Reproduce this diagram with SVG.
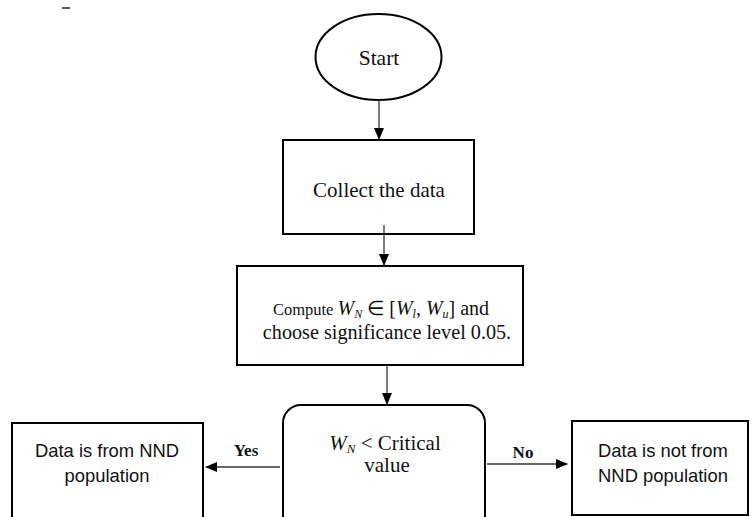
<svg xmlns="http://www.w3.org/2000/svg" width="753" height="517" viewBox="0 0 753 517">
<style>
.shape{fill:#fff;stroke:#000;stroke-width:2}
.serif{font-family:"Liberation Serif","Times New Roman",serif;fill:#111}
.sans{font-family:"Liberation Sans",Arial,sans-serif;fill:#111;font-size:18.4px}
.conn{stroke:#333;stroke-width:1.3;fill:none}
.it{font-style:italic}
.lbl{font-size:17px;font-weight:bold}
</style>
<defs>
<marker id="ah" markerWidth="12" markerHeight="10" refX="11" refY="5" orient="auto" markerUnits="userSpaceOnUse">
<path d="M0,0 L12,5 L0,10 Z" fill="#000"/>
</marker>
</defs>
<line x1="62" y1="8" x2="70" y2="8" stroke="#222" stroke-width="1.5"/>
<g id="start">
<ellipse cx="378.5" cy="57" rx="63" ry="43" class="shape" stroke-width="2.5"/>
<text x="379" y="65" class="serif" font-size="21.5" text-anchor="middle">Start</text>
</g>
<g id="collect">
<rect x="283" y="140" width="191" height="94" class="shape"/>
<text x="379" y="197" class="serif" font-size="21" text-anchor="middle">Collect the data</text>
</g>
<g id="compute">
<rect x="237" y="266" width="286" height="99" class="shape" stroke-width="2.5"/>
<text x="381" y="315" class="serif" font-size="20" text-anchor="middle"><tspan font-size="16.5">Compute </tspan><tspan class="it">W</tspan><tspan class="it" font-size="12" dy="3">N</tspan><tspan dy="-3"> ∈ [</tspan><tspan class="it">W</tspan><tspan class="it" font-size="12" dy="3">l</tspan><tspan dy="-3">, </tspan><tspan class="it">W</tspan><tspan class="it" font-size="12" dy="3">u</tspan><tspan dy="-3">] and</tspan></text>
<text x="387" y="339" class="serif" font-size="20.2" text-anchor="middle">choose significance level 0.05.</text>
</g>
<g id="decision">
<rect x="283" y="405" width="202" height="130" rx="18" ry="18" class="shape"/>
<text x="385" y="450" class="serif" font-size="21" text-anchor="middle"><tspan class="it">W</tspan><tspan class="it" font-size="13" dy="3">N</tspan><tspan dy="-3"> &lt; Critical</tspan></text>
<text x="387" y="472" class="serif" font-size="21" text-anchor="middle">value</text>
</g>
<g id="yes-box">
<rect x="12" y="423" width="191" height="100" class="shape"/>
<text x="107" y="457" class="sans" text-anchor="middle">Data is from NND</text>
<text x="107" y="482" class="sans" text-anchor="middle">population</text>
</g>
<g id="no-box">
<rect x="572" y="421" width="176" height="94" class="shape"/>
<text x="663" y="457" class="sans" text-anchor="middle">Data is not from</text>
<text x="663" y="482" class="sans" text-anchor="middle">NND population</text>
</g>
<g id="connectors">
<line x1="379" y1="100" x2="379" y2="139" class="conn" marker-end="url(#ah)"/>
<line x1="384" y1="225" x2="384" y2="265" class="conn" marker-end="url(#ah)"/>
<line x1="387" y1="366" x2="387" y2="404" class="conn" marker-end="url(#ah)"/>
<line x1="280" y1="467" x2="206" y2="467" class="conn" marker-end="url(#ah)"/>
<line x1="487" y1="464" x2="567" y2="464" class="conn" marker-end="url(#ah)"/>
<text x="246" y="456" class="serif lbl" text-anchor="middle">Yes</text>
<text x="523" y="458" class="serif lbl" text-anchor="middle">No</text>
</g>
</svg>
